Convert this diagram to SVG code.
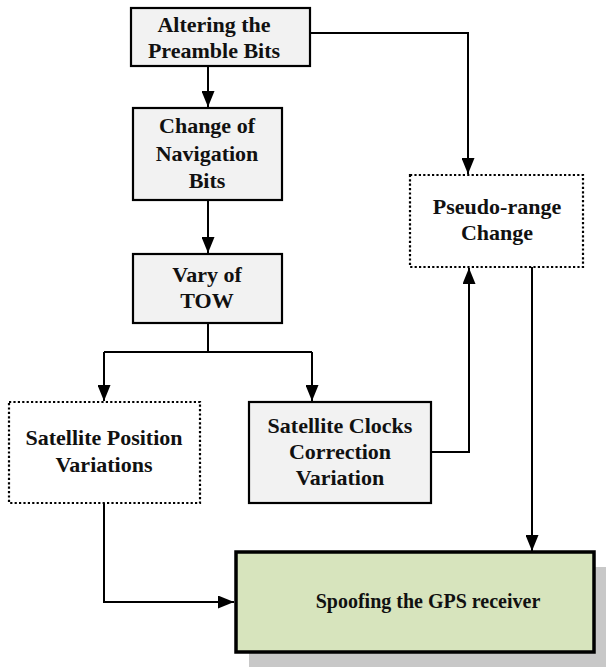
<svg xmlns="http://www.w3.org/2000/svg" width="606" height="667" viewBox="0 0 606 667">
<defs>
<marker id="arr" markerWidth="16" markerHeight="13" refX="16" refY="6.5" viewBox="0 0 16 13" markerUnits="userSpaceOnUse" orient="auto">
<path d="M0,0 L16,6.5 L0,13 Z" fill="#000"/>
</marker>
<style>
.box{fill:#f2f2f2;stroke:#000;stroke-width:2.2}
.dot{fill:#fff;stroke:#000;stroke-width:2.2;stroke-dasharray:2.2,2.2}
.main{fill:#d7e4bd;stroke:#000;stroke-width:3.5}
.shadow{fill:#c8c8c8}
.t{font-family:"Liberation Serif","Times New Roman",serif;font-weight:bold;font-size:22px;fill:#111;text-anchor:middle}
.c{fill:none;stroke:#000;stroke-width:2}
</style>
</defs>
<rect width="606" height="667" fill="#fff"/>

<g id="connectors">
<path class="c" d="M208,66 V107" marker-end="url(#arr)"/>
<path class="c" d="M208,200 V253" marker-end="url(#arr)"/>
<path class="c" d="M310,33 H468 V174" marker-end="url(#arr)"/>
<path class="c" d="M208,323 V352"/>
<path class="c" d="M104,352 H312"/>
<path class="c" d="M104,352 V401" marker-end="url(#arr)"/>
<path class="c" d="M312,352 V401" marker-end="url(#arr)"/>
<path class="c" d="M431,452 H469 V268" marker-end="url(#arr)"/>
<path class="c" d="M532,267 V551" marker-end="url(#arr)"/>
<path class="c" d="M104,503 V602 H234" marker-end="url(#arr)"/>
</g>

<g id="n1">
<rect class="box" x="131" y="8" width="179" height="58"/>
<text class="t" x="214" y="32">Altering the</text>
<text class="t" x="214" y="58">Preamble Bits</text>
</g>
<g id="n2">
<rect class="box" x="133" y="108" width="149" height="92"/>
<text class="t" x="207" y="133">Change of</text>
<text class="t" x="207" y="161">Navigation</text>
<text class="t" x="207" y="188">Bits</text>
</g>
<g id="n3">
<rect class="box" x="133" y="254" width="149" height="69"/>
<text class="t" x="207" y="282">Vary of</text>
<text class="t" x="207" y="308">TOW</text>
</g>
<g id="n4">
<rect class="dot" x="9" y="402" width="191" height="101"/>
<text class="t" x="104" y="445">Satellite Position</text>
<text class="t" x="104" y="472">Variations</text>
</g>
<g id="n5">
<rect class="box" x="249" y="402" width="182" height="101"/>
<text class="t" x="340" y="433">Satellite Clocks</text>
<text class="t" x="340" y="459">Correction</text>
<text class="t" x="340" y="485">Variation</text>
</g>
<g id="n6">
<rect class="dot" x="410" y="175" width="173" height="92"/>
<text class="t" x="497" y="214">Pseudo-range</text>
<text class="t" x="497" y="240">Change</text>
</g>
<g id="n7">
<rect class="shadow" x="249" y="567" width="357" height="100"/>
<rect class="main" x="236" y="552" width="358" height="100"/>
<text class="t" x="428" y="608" style="font-size:20px">Spoofing the GPS receiver</text>
</g>
</svg>
